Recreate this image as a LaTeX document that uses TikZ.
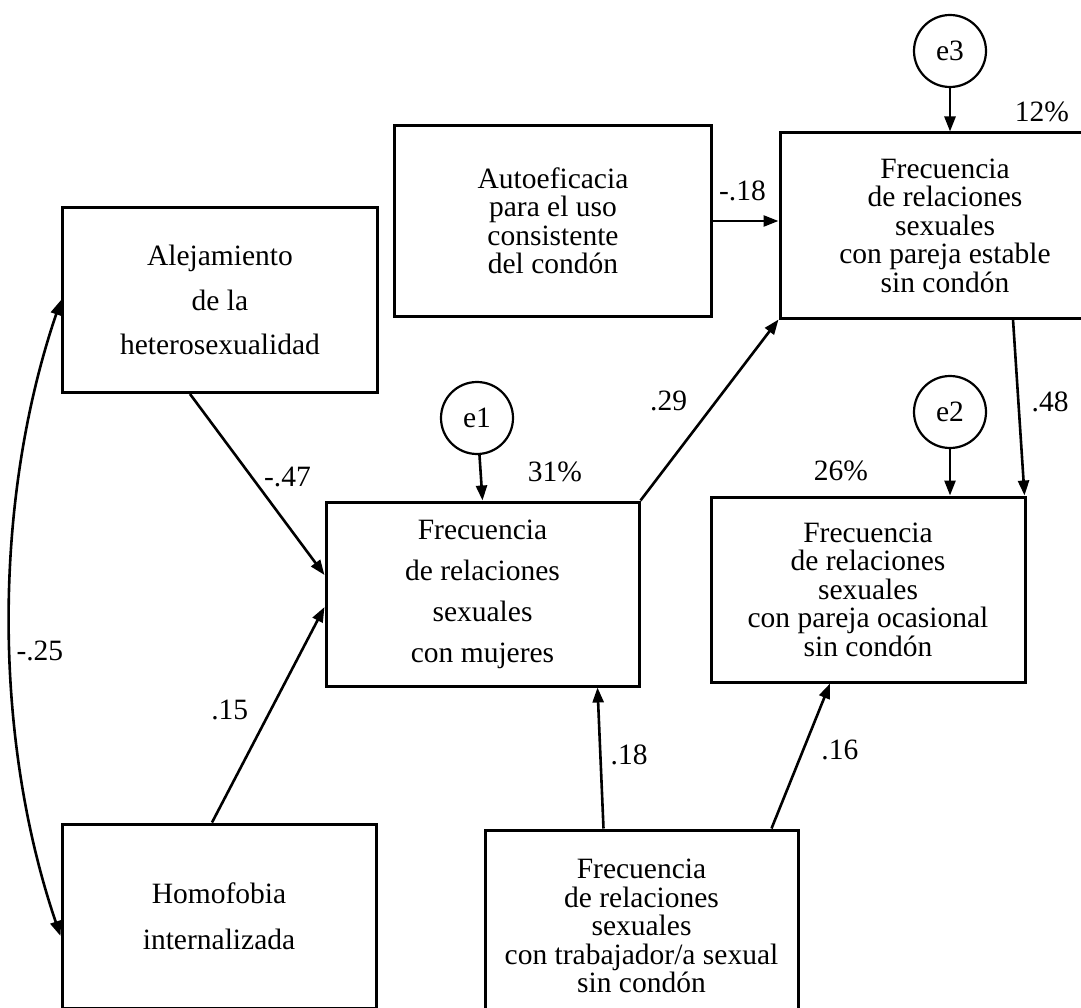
\documentclass[tikz,border=0pt]{standalone}
\usepackage{fontspec}
\setmainfont{Liberation Serif}
\usetikzlibrary{arrows.meta, calc}
\tikzset{
  obsVar/.style = {rectangle, draw=black, line width=3pt, minimum width=315pt,
    minimum height=185pt, align=center, inner sep=0pt,
    font=\fontsize{29.5}{28.5}\selectfont},
  errVar/.style = {circle, draw=black, line width=2.2pt, minimum size=72pt,
    inner sep=0pt, font=\fontsize{29.5}{29}\selectfont},
  coef/.style = {inner sep=1pt, font=\fontsize{29.5}{29}\selectfont},
  effect/.style = {-{Triangle[length=15pt, width=11pt]}, line width=2.6pt},
  corr/.style = {{Triangle[length=15pt, width=11pt]}-{Triangle[length=15pt, width=11pt]}, line width=2.6pt},
}
\begin{document}
\begin{tikzpicture}[x=1pt, y=-1pt]
\useasboundingbox (0,0) rectangle (1081,1008);
\clip (0,0) rectangle (1081,1008);

\node[obsVar] (n1) at (220,300) {Alejamiento\\[16pt]de la\\[16pt]heterosexualidad};
\node[obsVar, minimum width=317pt, minimum height=190pt] (n2) at (553,221) {Autoeficacia\\para el uso\\consistente\\del condón};
\node[obsVar, minimum width=330pt] (n3) at (945,225.5) {Frecuencia\\de relaciones\\sexuales\\con pareja estable\\sin condón};
\node[obsVar, minimum width=313pt, minimum height=184pt] (n4) at (482.5,594) {Frecuencia\\[12.5pt]de relaciones\\[12.5pt]sexuales\\[12.5pt]con mujeres};
\node[obsVar, minimum width=314pt] (n5) at (868,589.5) {Frecuencia\\de relaciones\\sexuales\\con pareja ocasional\\sin condón};
\node[obsVar, minimum width=314pt, minimum height=184pt] (n6) at (219,916) {Homofobia\\[18pt]internalizada};
\node[obsVar, minimum width=313pt, minimum height=192pt] (n7) at (641.5,926) {Frecuencia\\de relaciones\\sexuales\\con trabajador/a sexual\\sin condón};

\node[errVar] (e3) at (950,51) {e3};
\node[errVar] (e1) at (477,418) {e1};
\node[errVar] (e2) at (950,412) {e2};

\node[coef] (r3) at (1042,112) {12\%};
\node[coef] (r1) at (555,472) {31\%};
\node[coef] (r2) at (841,471) {26\%};

\draw[effect] (e3) -- (e3 |- n3.north);
\draw[effect] (e1) -- (n4.north);
\draw[effect] (e2) -- (e2 |- n5.north);
\draw[effect] (n2.east) -- node[coef, pos=0.45, above=18pt]{-.18} (n2.east -| n3.west);
\draw[effect] ($(n1.south)+(-30,0)$) -- node[coef, pos=0.46, right=10pt]{-.47} ($(n4.west)+(0,-19)$);
\draw[effect] ($(n6.north)+(-7,0)$) -- node[coef, pos=0.52, left=20pt]{.15} ($(n4.west)+(0,13)$);
\draw[effect] (n4.north east) -- node[coef, pos=0.55, left=27pt]{.29} (n3.south west);
\draw[effect] ($(n3.south)+(68,0)$) -- node[coef, pos=0.47, right=11pt]{.48} ($(n5.north east)+(-2,0)$);
\draw[effect] ($(n7.north)+(-38,0)$) -- node[coef, pos=0.52, right=8pt]{.18} ($(n4.south)+(115,0)$);
\draw[effect] ($(n7.north)+(130,0)$) -- node[coef, pos=0.54, right=16pt]{.16} ($(n5.south)+(-38,0)$);
\draw[corr] (n1.west) .. controls +(-68,200) and +(-68,-200) .. node[coef, pos=0.55, right=4pt]{-.25} ($(n6.west)+(0,20)$);

\end{tikzpicture}
\end{document}
